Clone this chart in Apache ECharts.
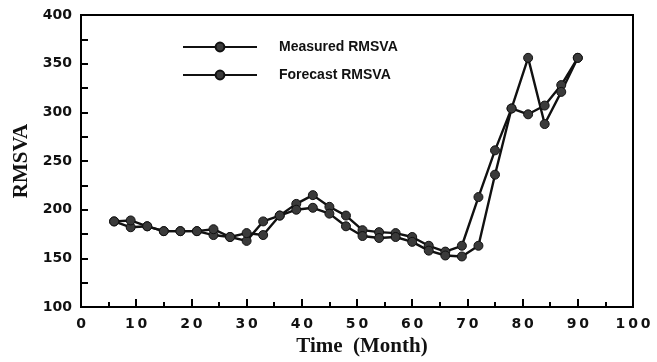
<!DOCTYPE html>
<html>
<head>
<meta charset="utf-8">
<script src="https://cdn.jsdelivr.net/npm/echarts@6/dist/echarts.min.js"></script>
<style>
  html, body { margin: 0; padding: 0; background: #fff; }
  #chart { width: 657px; height: 362px; }
</style>
</head>
<body>
<div id="chart"></div>
<script>
// months sampled every 3 months
var months = [6, 9, 12, 15, 18, 21, 24, 27, 30, 33, 36, 39, 42, 45, 48, 51, 54, 57, 60, 63, 66, 69, 72, 75, 78, 81, 84, 87, 90]
var measured = [188, 182, 183, 178, 178, 178, 174, 172, 168, 188, 194, 206, 215, 203, 194, 179, 177, 176, 172, 163, 157, 163, 213, 261, 304, 298, 307, 328, 356]
var forecast = [188, 189, 183, 178, 178, 178, 180, 172, 176, 174, 194, 200, 202, 196, 183, 173, 171, 172, 167, 158, 153, 152, 163, 236, 304, 356, 288, 321, 356]
var seriesNames = ['Measured RMSVA', 'Forecast RMSVA']

function pairs(vals) {
  return months.map(function (m, i) { return [m, vals[i]] })
}

var chart = echarts.init(document.getElementById('chart'))

function lineSeries(name, vals) {
  return {
    name: name,
    type: 'line',
    data: pairs(vals),
    symbol: 'circle',
    symbolSize: 9,
    lineStyle: { color: '#111', width: 2.4 },
    itemStyle: { color: '#3a3a3a', borderColor: '#111', borderWidth: 1 },
    emphasis: { disabled: true },
    animation: false
  }
}

chart.setOption({
  animation: false,
  grid: {
    left: 81, right: 24, top: 15, bottom: 47,
    show: true, borderColor: '#000', borderWidth: 2
  },
  legend: {
    data: seriesNames,
    orient: 'vertical',
    left: 177,
    top: 35,
    itemWidth: 74,
    itemHeight: 11,
    itemGap: 14,
    textStyle: { fontFamily: 'Liberation Sans', fontWeight: 'bold', fontSize: 14, color: '#111', padding: [0, 0, 0, 17] }
  },
  xAxis: {
    type: 'value',
    min: 0, max: 100, interval: 10,
    name: 'Time  (Month)',
    nameLocation: 'middle',
    nameGap: 23,
    nameTextStyle: { fontFamily: 'Liberation Serif', fontWeight: 'bold', fontSize: 21, color: '#111', padding: [0, 0, 0, 10] },
    axisLine: { lineStyle: { color: '#000', width: 2 } },
    axisTick: { inside: true, length: 8, lineStyle: { color: '#000', width: 2 } },
    minorTick: { show: true, splitNumber: 2, length: 5, lineStyle: { color: '#000', width: 2 } },
    axisLabel: {
      fontFamily: 'DejaVu Sans', fontWeight: 'bold', fontSize: 14, color: '#111', margin: 10,
      formatter: function (v) { return String(v).split('').join('\u2009') }
    },
    splitLine: { show: false }
  },
  yAxis: {
    type: 'value',
    min: 100, max: 400, interval: 50,
    name: 'RMSVA',
    nameLocation: 'middle',
    nameGap: 48,
    nameTextStyle: { fontFamily: 'Liberation Serif', fontWeight: 'bold', fontSize: 21, color: '#111' },
    axisLine: { lineStyle: { color: '#000', width: 2 } },
    axisTick: { inside: true, length: 7, lineStyle: { color: '#000', width: 2 } },
    minorTick: { show: true, splitNumber: 2, length: 7, lineStyle: { color: '#000', width: 2 } },
    axisLabel: { fontFamily: 'DejaVu Sans', fontWeight: 'bold', fontSize: 14, color: '#111', margin: 9 },
    splitLine: { show: false }
  },
  series: [
    lineSeries(seriesNames[0], measured),
    lineSeries(seriesNames[1], forecast)
  ]
})
</script>
</body>
</html>
